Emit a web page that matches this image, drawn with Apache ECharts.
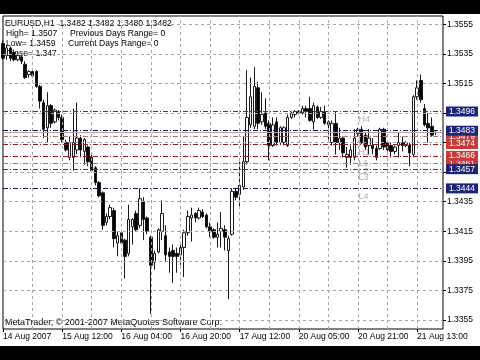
<!DOCTYPE html>
<html><head><meta charset="utf-8">
<script src="https://cdn.jsdelivr.net/npm/echarts@6/dist/echarts.min.js"></script>
<style>html,body{margin:0;padding:0;background:#fff;}#c{width:480px;height:360px;}</style>
</head><body><div id="c"></div>
<script>
// hourly sessions shown: [day, first hour, last hour] (last two slots of 21 Aug are empty space)
const days = [['14 Aug',20,23],['15 Aug',0,23],['16 Aug',0,23],['17 Aug',0,22],['20 Aug',0,23],['21 Aug',0,20]];
const xTickIdx = [0,16,32,48,64,80,96,112];
const xTickText = ['14 Aug 2007','15 Aug 12:00','16 Aug 04:00','16 Aug 20:00','17 Aug 12:00','20 Aug 05:00','20 Aug 21:00','21 Aug 13:00'];
const priceTicks = [1.3355,1.3375,1.3395,1.3415,1.3435,1.3455,1.3475,1.3495,1.3515,1.3535,1.3555];
const yMin = 1.33489, yMax = 1.35606;

const opens = [1.3542,1.3534,1.3539,1.3536,1.3531,1.3533,1.3528,1.3521,1.3523,1.3523,
1.3513,1.3502,1.3485,1.3500,1.3489,1.3496,1.3492,1.3475,1.3465,1.3465,
1.3470,1.3478,1.3469,1.3472,1.3465,1.3458,1.3448,1.3441,1.3421,1.3425,
1.3429,1.3407,1.3414,1.3409,1.3400,1.3418,1.3427,1.3419,1.3435,1.3424,
1.3411,1.3394,1.3401,1.3415,1.3412,1.3401,1.3402,1.3400,1.3399,1.3404,
1.3414,1.3424,1.3427,1.3424,1.3428,1.3426,1.3418,1.3416,1.3411,1.3415,
1.3416,1.3402,1.3413,1.3442,1.3440,1.3445,1.3462,1.3487,1.3486,1.3512,
1.3489,1.3495,1.3488,1.3473,1.3489,1.3475,1.3475,1.3473,1.3492,1.3494,
1.3495,1.3495,1.3498,1.3498,1.3489,1.3499,1.3492,1.3496,1.3487,1.3475,
1.3488,1.3475,1.3478,1.3465,1.3465,1.3465,1.3481,1.3484,1.3480,1.3473,
1.3473,1.3471,1.3471,1.3484,1.3475,1.3473,1.3469,1.3473,1.3475,1.3473,
1.3473,1.3467,1.3506,1.3517,1.3498,1.3488,1.3486,1.3482];
const closes = [1.3532,1.3539,1.3532,1.3531,1.3534,1.3530,1.3519,1.3523,1.3520,1.3513,
1.3503,1.3484,1.3500,1.3488,1.3497,1.3492,1.3477,1.3470,1.3475,1.3475,
1.3478,1.3470,1.3477,1.3462,1.3456,1.3448,1.3439,1.3419,1.3425,1.3431,
1.3410,1.3412,1.3407,1.3398,1.3423,1.3423,1.3416,1.3437,1.3423,1.3415,
1.3392,1.3400,1.3416,1.3427,1.3399,1.3398,1.3398,1.3398,1.3404,1.3414,
1.3425,1.3426,1.3424,1.3429,1.3425,1.3418,1.3415,1.3411,1.3413,1.3417,
1.3411,1.3410,1.3442,1.3438,1.3446,1.3462,1.3492,1.3506,1.3513,1.3488,
1.3494,1.3486,1.3473,1.3487,1.3475,1.3485,1.3485,1.3492,1.3495,1.3496,
1.3496,1.3498,1.3496,1.3490,1.3500,1.3492,1.3496,1.3488,1.3489,1.3488,
1.3475,1.3478,1.3468,1.3467,1.3470,1.3478,1.3484,1.3475,1.3472,1.3478,
1.3471,1.3465,1.3484,1.3472,1.3470,1.3469,1.3472,1.3475,1.3473,1.3475,
1.3468,1.3506,1.3512,1.3504,1.3487,1.3485,1.3480,1.3482];
const lows = [1.3531,1.3531,1.3530,1.3530,1.3530,1.3528,1.3518,1.3519,1.3519,1.3512,
1.3498,1.3478,1.3475,1.3485,1.3488,1.3490,1.3475,1.3469,1.3463,1.3456,
1.3467,1.3465,1.3460,1.3459,1.3455,1.3446,1.3438,1.3416,1.3419,1.3423,
1.3404,1.3398,1.3406,1.3383,1.3398,1.3406,1.3415,1.3417,1.3409,1.3413,
1.3359,1.3389,1.3400,1.3409,1.3394,1.3387,1.3380,1.3387,1.3392,1.3384,
1.3412,1.3408,1.3421,1.3423,1.3424,1.3417,1.3411,1.3410,1.3404,1.3404,
1.3402,1.3369,1.3412,1.3436,1.3431,1.3443,1.3460,1.3485,1.3484,1.3484,
1.3487,1.3484,1.3463,1.3472,1.3473,1.3474,1.3473,1.3472,1.3491,1.3492,
1.3494,1.3494,1.3492,1.3489,1.3484,1.3491,1.3491,1.3487,1.3477,1.3473,
1.3467,1.3470,1.3465,1.3458,1.3460,1.3463,1.3479,1.3474,1.3470,1.3467,
1.3467,1.3463,1.3470,1.3470,1.3469,1.3465,1.3467,1.3465,1.3469,1.3472,
1.3459,1.3465,1.3504,1.3502,1.3486,1.3475,1.3479,1.3480];
const highs = [1.3544,1.3541,1.3540,1.3537,1.3536,1.3534,1.3530,1.3524,1.3525,1.3524,
1.3514,1.3504,1.3509,1.3501,1.3498,1.3497,1.3494,1.3477,1.3479,1.3498,
1.3502,1.3480,1.3478,1.3473,1.3467,1.3459,1.3449,1.3442,1.3427,1.3433,
1.3431,1.3415,1.3416,1.3410,1.3433,1.3424,1.3429,1.3444,1.3438,1.3425,
1.3412,1.3402,1.3417,1.3436,1.3419,1.3404,1.3406,1.3404,1.3406,1.3416,
1.3429,1.3431,1.3428,1.3431,1.3430,1.3427,1.3421,1.3417,1.3421,1.3428,
1.3419,1.3412,1.3444,1.3444,1.3462,1.3479,1.3524,1.3519,1.3526,1.3516,
1.3509,1.3505,1.3490,1.3492,1.3492,1.3486,1.3486,1.3494,1.3496,1.3497,
1.3497,1.3500,1.3500,1.3506,1.3502,1.3500,1.3499,1.3500,1.3490,1.3490,
1.3496,1.3485,1.3479,1.3472,1.3473,1.3484,1.3485,1.3486,1.3482,1.3484,
1.3478,1.3473,1.3485,1.3485,1.3476,1.3475,1.3473,1.3482,1.3479,1.3476,
1.3475,1.3507,1.3517,1.3521,1.3501,1.3495,1.3492,1.3482];

// pivot levels (drawn first = underneath)
const levelValues = [1.3479,1.3461,1.3496,1.3483,1.3474,1.3466,1.3457,1.3444];
const levelNames  = ['H2','L2','H4','H3','H1','L1','L3','L4'];
const levelLine   = ['#b07878','#b07878','#3a3a78','#14144a','#8a1e1e','#8a1e1e','#3a3a78','#14144a'];
const levelBox    = ['#c83a3a','#c83a3a','#1c2478','#1c2478','#c83a3a','#c83a3a','#1c2478','#1c2478'];
const labelBarIdx = 96;
const bidPrice = 1.3482;
const gridBarIdx = [8,16,24,32,40,48,56,64,72,80,88,96,104,112];

const infoLines = [
  ['EURUSD,H1  1.3482 1.3482 1.3480 1.3482', 5, 24],
  ['High= 1.3507', 6, 34], ['Previous Days Range= 0', 70, 34],
  ['Low= 1.3459', 6, 44], ['Current Days Range= 0', 68, 44],
  ['Close= 1.347', 6, 54]
];
const copyright = 'MetaTrader, \u00a9 2001-2007 MetaQuotes Software Corp.';

const cats = [];
days.forEach(d => { for (let h = d[1]; h <= d[2]; h++) cats.push(d[0] + ' ' + String(h).padStart(2,'0') + ':00'); });
const candles = opens.map((o,i) => [o, closes[i], lows[i], highs[i]]);
const FONT = 'Liberation Sans, Arial, sans-serif';

function hiddenLine(name, z, markData) {
  return {name: name, type: 'line', z: z, data: closes, showSymbol: false, symbol: 'none',
    lineStyle: {opacity: 0, width: 0}, silent: true,
    markLine: {silent: true, precision: 6, symbol: ['none','none'], animation: false, data: markData}};
}
function gridStyle() { return {color: '#a6a6a6', width: 1, type: [3,3], opacity: 1}; }

const chart = echarts.init(document.getElementById('c'), null, {width:480, height:360});
chart.setOption({
  animation: false,
  backgroundColor: '#fff',
  grid: {left: 3, top: 16, width: 440, height: 313, show: true, borderColor: '#000', borderWidth: 1, backgroundColor: 'transparent'},
  xAxis: {
    type: 'category', data: cats, boundaryGap: false,
    axisLine: {show: false},
    axisTick: {show: true, length: 3, interval: (i) => xTickIdx.includes(i), lineStyle: {color: '#000'}},
    axisLabel: {interval: (i) => xTickIdx.includes(i), formatter: (v, i) => { const k = xTickIdx.indexOf(i); return k >= 0 ? xTickText[k] : ''; },
      align: 'left', margin: 3, fontSize: 8.5, color: '#000', fontFamily: FONT, hideOverlap: false},
    splitLine: {show: false}
  },
  yAxis: {
    type: 'value', position: 'right', min: yMin, max: yMax, scale: true,
    axisLine: {show: false},
    axisTick: {show: true, length: 3, customValues: priceTicks, lineStyle: {color: '#000'}},
    axisLabel: {customValues: priceTicks, formatter: v => v.toFixed(4), margin: 4, fontSize: 8.5, color: '#000', fontFamily: FONT},
    splitLine: {show: false}
  },
  graphic: [
    {type: 'rect', shape: {x: 0, y: 0, width: 480, height: 14}, style: {fill: '#000'}, z: 100},
    {type: 'rect', shape: {x: 0, y: 346, width: 480, height: 14}, style: {fill: '#000'}, z: 100},
    ...infoLines.map(t => ({type: 'text', x: t[1], y: t[2], z: 0, style: {text: t[0], fill: '#000', font: '8.6px ' + FONT, textVerticalAlign: 'middle'}})),
    {type: 'text', x: 5, y: 323, z: 0, style: {text: copyright, fill: '#000', font: '9px ' + FONT, textVerticalAlign: 'middle'}}
  ],
  series: [
    hiddenLine('gridH', 1, priceTicks.map(v => ({yAxis: v, lineStyle: gridStyle(), label: {show: false}}))),
    hiddenLine('gridV', 1, gridBarIdx.map(i => [{coord: [i, yMin], lineStyle: gridStyle(), label: {show: false}}, {coord: [i, yMax]}])),
    {
      name: 'labels', type: 'scatter', z: 2, symbolSize: 1, itemStyle: {color: 'rgba(0,0,0,0)'}, silent: true,
      data: levelValues.map((v, i) => ({value: [labelBarIdx, v], name: levelNames[i]})),
      label: {show: true, position: [1, 4], formatter: p => p.name, color: '#9a9a9a', fontSize: 9, fontFamily: FONT, align: 'left', verticalAlign: 'top'}
    },
    {
      name: 'EURUSD', type: 'candlestick', z: 3, data: candles, barWidth: 3,
      itemStyle: {color: '#fff', color0: '#000', borderColor: '#1a1a1a', borderColor0: '#1a1a1a', borderWidth: 1}
    },
    hiddenLine('levels', 4,
      [{yAxis: bidPrice, lineStyle: {color: '#a8a8a8', type: 'solid', width: 1, opacity: 1}, label: {show: false}}].concat(
        levelValues.map((v, i) => ({
          yAxis: v,
          lineStyle: {color: levelLine[i], width: 1, type: [5,2,1,2], opacity: 1},
          label: {show: true, position: 'end', distance: 3, formatter: () => v.toFixed(4),
            backgroundColor: levelBox[i], color: '#fff', fontSize: 8.5, fontFamily: FONT, padding: [1,3,0,3], lineHeight: 9}
        }))))
  ]
});
</script></body></html>
